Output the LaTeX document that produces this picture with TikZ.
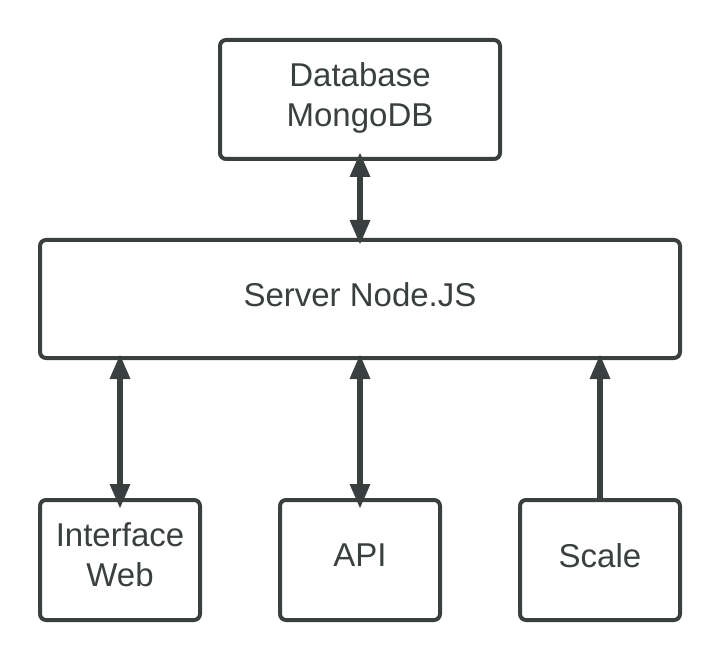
\documentclass[tikz,border=0pt]{standalone}
\usepackage{fontspec}
\setmainfont{Liberation Sans}
\usetikzlibrary{arrows.meta}
\definecolor{ink}{HTML}{3A4040}
\begin{document}
\begin{tikzpicture}[x=1pt,y=-1pt,
  box/.style={draw=ink, line width=4pt, rounded corners=6pt, fill=white, inner sep=0pt},
  lbl/.style={text=ink, align=center, inner sep=0pt, font=\fontsize{33}{40}\selectfont},
  conn/.style={draw=ink, line width=6pt, -{Triangle[length=25pt,width=19pt]}},
  bconn/.style={draw=ink, line width=6pt, {Triangle[length=25pt,width=19pt]}-{Triangle[length=25pt,width=19pt]}}
]
\useasboundingbox (0,0) rectangle (720,660);
\node[box, minimum width=280pt, minimum height=119pt] (db) at (360,99.5) {};
\node[box, minimum width=640pt, minimum height=118pt] (srv) at (360,299) {};
\node[box, minimum width=160pt, minimum height=120pt] (web) at (120,560) {};
\node[box, minimum width=160pt, minimum height=120pt] (api) at (360,560) {};
\node[box, minimum width=160pt, minimum height=120pt] (scale) at (600,560) {};
\node[lbl, text depth=0pt] (dbt) at ([yshift=5pt]db.center) {Database\\MongoDB};
\node[lbl] (srvt) at ([yshift=4.5pt]srv.center) {Server Node.JS};
\node[lbl, text depth=0pt] (webt) at ([yshift=5pt]web.center) {Interface\\Web};
\node[lbl] (apit) at ([yshift=4.5pt]api.center) {API};
\node[lbl] (scalet) at ([yshift=4.5pt]scale.center) {Scale};
\draw[bconn, shorten <=-9pt, shorten >=-7pt] (db.south) -- (srv.north);
\draw[bconn, shorten <=-6pt, shorten >=-11pt] (srv.south -| web.north) -- (web.north);
\draw[bconn, shorten <=-6pt, shorten >=-11pt] (srv.south) -- (api.north);
\draw[conn, shorten >=-6pt] (scale.north) -- (srv.south -| scale.north);
\end{tikzpicture}
\end{document}
